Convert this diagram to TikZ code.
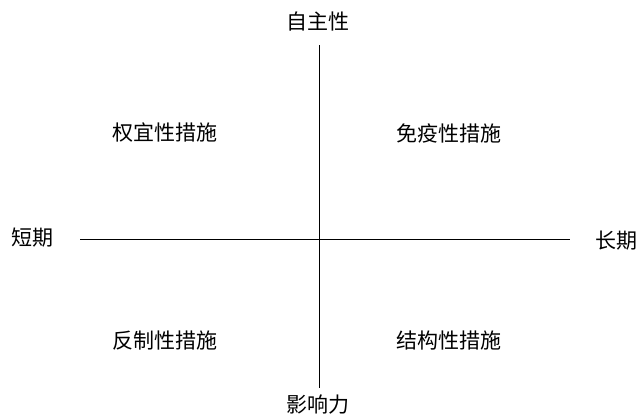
\documentclass[tikz,border=0pt]{standalone}
\usepackage{fontspec}
\newfontfamily\cjk{Noto Sans CJK SC}
\begin{document}
\begin{tikzpicture}[x=1pt,y=-1pt,
  lab/.style={font=\cjk\fontsize{21}{25}\selectfont, inner sep=0pt, text=black},
  axis/.style={draw=black, line width=0.8pt}]
\useasboundingbox (0,0) rectangle (638,416);
\fill[white] (0,0) rectangle (638,416);
\coordinate (top) at (319,45);
\coordinate (bot) at (319,388);
\coordinate (left) at (80,239);
\coordinate (right) at (570,239);
\draw[axis] (top) -- (bot);
\draw[axis] (left) -- (right);
\node[lab] (t) at (318,22) {自主性};
\node[lab] (b) at (318,405) {影响力};
\node[lab] (l) at (33,238) {短期};
\node[lab] (r) at (616,241) {长期};
\node[lab] (q1) at (165,133) {权宜性措施};
\node[lab] (q2) at (449,133) {免疫性措施};
\node[lab] (q3) at (165,341) {反制性措施};
\node[lab] (q4) at (449,341) {结构性措施};
\end{tikzpicture}
\end{document}
